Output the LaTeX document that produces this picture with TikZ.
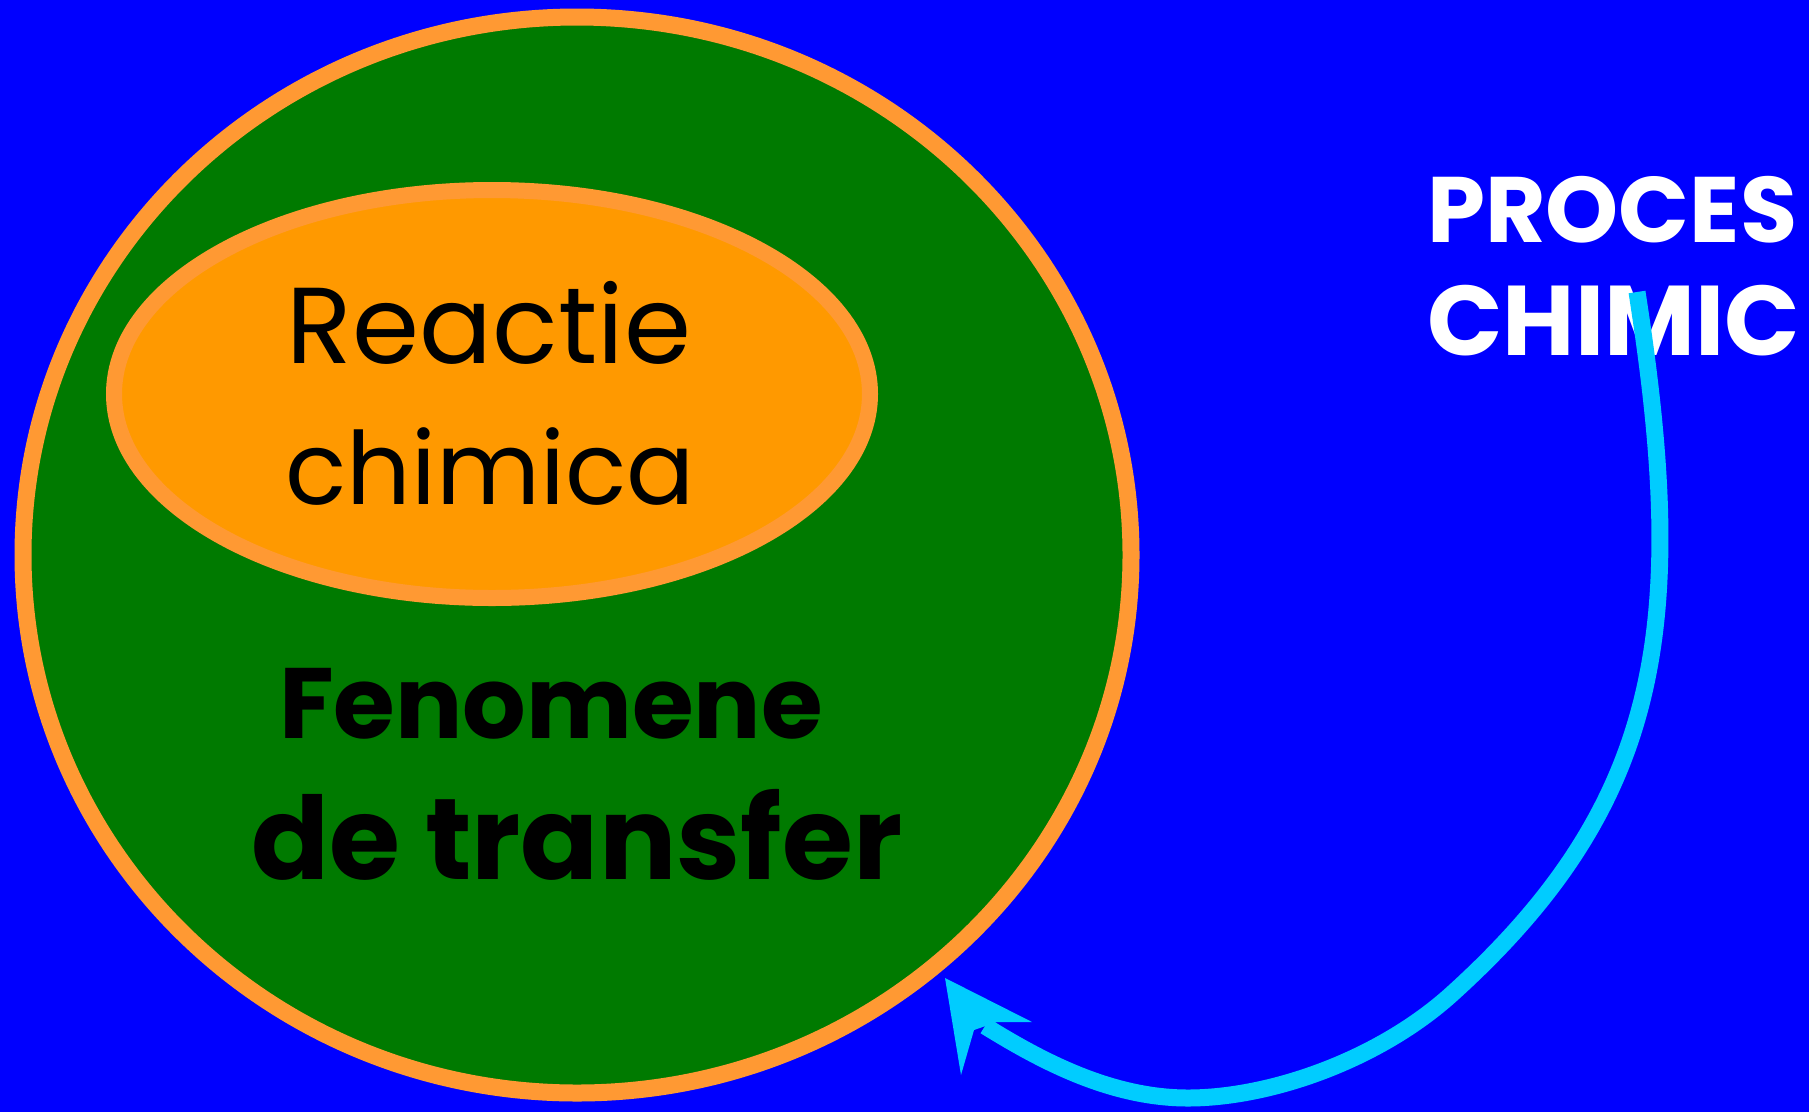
\documentclass[tikz,border=0pt]{standalone}
\usepackage{fontspec}
\setmainfont{Poppins}
\usetikzlibrary{shapes.geometric}
\definecolor{bgblue}{RGB}{0,0,255}
\definecolor{leafgreen}{RGB}{0,122,0}
\definecolor{rimorange}{RGB}{255,153,51}
\definecolor{coreorange}{RGB}{255,153,0}
\definecolor{flowcyan}{RGB}{0,204,255}
\tikzset{
  region/.style={ellipse, draw=rimorange, inner sep=0pt, outer sep=0pt},
  label/.style={inner sep=0pt, text=black},
  flow/.style={draw=flowcyan, line width=17pt},
}
\begin{document}
\begin{tikzpicture}[x=1pt, y=-1pt]
  % canvas
  \fill[bgblue] (0,0) rectangle (1809,1112);
  \useasboundingbox (0,0) rectangle (1809,1112);

  % outer region and inner core
  \node[region, fill=leafgreen, line width=17pt, minimum width=1108pt, minimum height=1076pt] (proc) at (577,555) {};
  \node[region, fill=coreorange, line width=16pt, minimum width=756pt, minimum height=408pt] (core) at (492,394) {};

  % labels
  \node[label, anchor=base, font=\fontsize{108}{108}\selectfont] (r1) at (489,363) {Reactie};
  \node[label, anchor=base, font=\fontsize{101}{101}\selectfont] (r2) at (490,504) {chimica};
  \node[label, anchor=base, font=\fontsize{100}{100}\bfseries] (f1) at (551,738) {Fenomene};
  \node[label, anchor=base, font=\fontsize{115}{115}\bfseries] (f2) at (577,879) {de transfer};
  \node[label, anchor=base west, text=white, font=\fontsize{93}{93}\bfseries] (p1) at (1427,242) {PROCES};
  \node[label, anchor=base west, text=white, font=\fontsize{99}{99}\bfseries] (p2) at (1427,355) {CHIMIC};

  % connector from the label to the outer region
  \coordinate (src) at (1637,292);
  \coordinate (bend) at (1454,992);
  \coordinate (low) at (1188,1098);
  \coordinate (stem) at (985,1026);
  \draw[flow] (src) .. controls (1688,620) and (1665,800) .. (bend)
              .. controls (1380,1060) and (1270,1098) .. (low)
              .. controls (1110,1098) and (1040,1060) .. (stem);
  % barbed head
  \coordinate (tip) at (945,978);
  \fill[flowcyan] (tip) -- (1032,1022) -- (997,1022) -- (974,1030) -- (961,1075) -- cycle;
\end{tikzpicture}
\end{document}
